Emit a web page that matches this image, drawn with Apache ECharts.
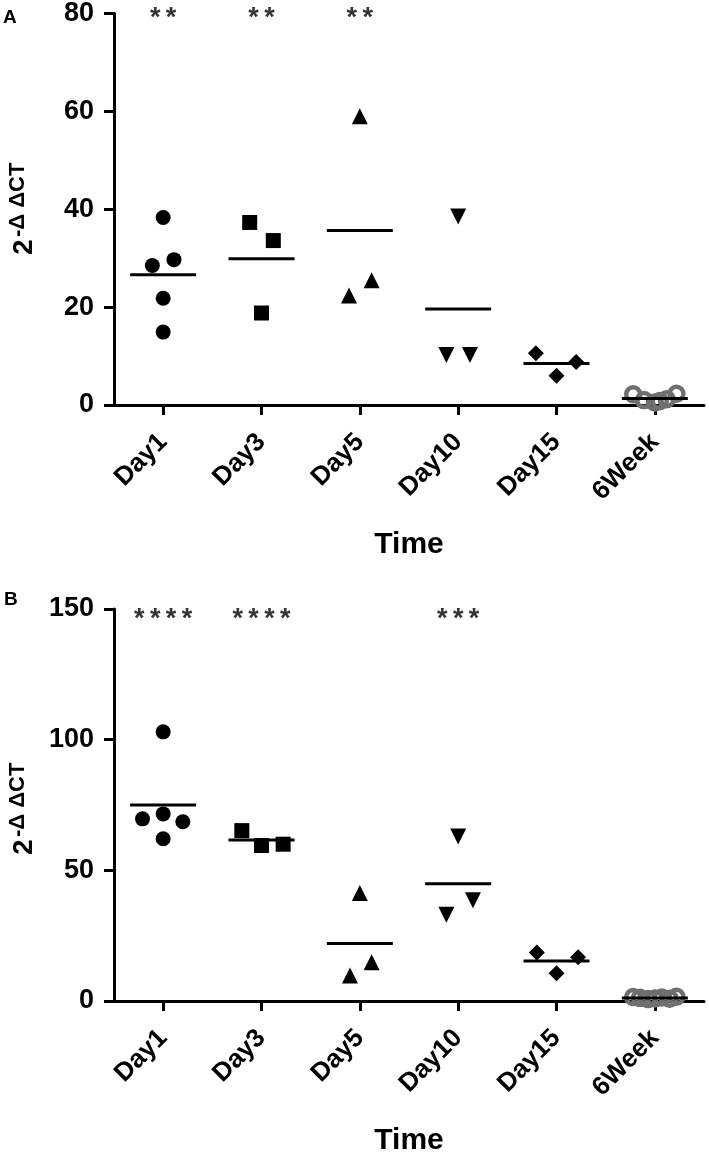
<!DOCTYPE html>
<html>
<head>
<meta charset="utf-8">
<script src="https://cdn.jsdelivr.net/npm/echarts@6/dist/echarts.min.js"></script>
<style>
html,body{margin:0;padding:0;background:#fff;}
#c{width:709px;height:1157px;}
</style>
</head>
<body>
<div id="c"></div>
<script>
// ---- data ----
const categories = ['Day1', 'Day3', 'Day5', 'Day10', 'Day15', '6Week'];

// Panel A
const aDay1  = [38.3, 28.5, 29.7, 21.8, 14.9];
const aDay3  = [37.3, 33.6, 18.8];
const aDay5  = [59.0, 22.4, 25.5];
const aDay10 = [38.5, 10.2, 10.2];
const aDay15 = [10.6, 6.0, 8.8];
const a6Week = [2.2, 1.0, 0.5, 0.8, 1.2, 2.3];
const sigA   = ['**', '**', '**', '', '', ''];

// Panel B
const bDay1  = [103.0, 69.7, 71.6, 68.6, 62.1];
const bDay3  = [65.2, 59.5, 60.0];
const bDay5  = [41.3, 9.8, 14.8];
const bDay10 = [62.9, 33.0, 38.6];
const bDay15 = [18.6, 10.6, 16.7];
const b6Week = [1.5, 1.2, 0.8, 1.0, 1.3, 0.9, 1.6];
const sigB   = ['****', '****', '', '***', '', ''];

// ---- layout only: horizontal scatter of points within a group (in category units) ----
const jitA = [
  [0, -0.11, 0.11, 0, 0],
  [-0.12, 0.12, 0],
  [0, -0.11, 0.12],
  [0, -0.12, 0.12],
  [-0.21, 0, 0.2],
  [-0.22, -0.11, 0, 0.05, 0.12, 0.22]
];
const jitB = [
  [0, -0.21, 0, 0.2, 0],
  [-0.2, 0, 0.22],
  [0, -0.1, 0.12],
  [0, -0.12, 0.15],
  [-0.2, 0, 0.22],
  [-0.22, -0.15, -0.07, 0, 0.07, 0.15, 0.22]
];

const FONT = "Liberation Sans, Arial, sans-serif";
const groupsA = [aDay1, aDay3, aDay5, aDay10, aDay15, a6Week];
const groupsB = [bDay1, bDay3, bDay5, bDay10, bDay15, b6Week];

const symbolDefs = [
  {symbol: 'circle', size: 15, rotate: 0},
  {symbol: 'rect', size: 15, rotate: 0},
  {symbol: 'triangle', size: 16, rotate: 0},
  {symbol: 'triangle', size: 16, rotate: 180},
  {symbol: 'diamond', size: 16, rotate: 0},
  {symbol: 'circle', size: 14, rotate: 0, hollow: true}
];

function mean(arr) { return arr.reduce((s, v) => s + v, 0) / arr.length; }

function panelSeries(groups, jit, sig, xValIdx, yIdx, yMax, starOffset) {
  const out = [];
  groups.forEach((vals, i) => {
    const def = symbolDefs[i];
    out.push({
      type: 'scatter', xAxisIndex: xValIdx, yAxisIndex: yIdx, clip: false,
      symbol: def.symbol, symbolSize: def.size, symbolRotate: def.rotate,
      itemStyle: def.hollow
        ? {color: 'rgba(255,255,255,0)', borderColor: '#6f6f6f', borderWidth: 4.5, opacity: 1}
        : {color: '#000', opacity: 1},
      emphasis: {disabled: true},
      z: 3,
      data: vals.map((v, k) => [i + jit[i][k], v])
    });
  });
  // group means
  out.push({
    type: 'scatter', xAxisIndex: xValIdx, yAxisIndex: yIdx, clip: false,
    symbol: 'rect', symbolSize: [66, 3], itemStyle: {color: '#000', opacity: 1}, z: 4,
    emphasis: {disabled: true},
    data: groups.map((vals, i) => [i, mean(vals)])
  });
  // significance stars
  out.push({
    type: 'scatter', xAxisIndex: xValIdx, yAxisIndex: yIdx, clip: false,
    symbolSize: 0, z: 5,
    label: {
      show: true, position: 'inside', offset: [0, starOffset],
      formatter: p => sig[p.dataIndex].split('').join('\u2009'),
      fontFamily: FONT, fontWeight: 'bold', fontSize: 27, color: '#000'
    },
    data: sig.map((s, i) => [i, yMax])
  });
  return out;
}

function catAxis(gridIndex) {
  return {
    type: 'category', gridIndex, data: categories, boundaryGap: true,
    axisLine: {show: true, lineStyle: {color: '#000', width: 3}},
    axisTick: {show: true, alignWithLabel: true, length: 10, lineStyle: {color: '#000', width: 3}},
    axisLabel: {rotate: 45, margin: 33, fontFamily: FONT, fontWeight: 'bold', fontSize: 26, color: '#000'},
    splitLine: {show: false},
    name: 'Time', nameLocation: 'middle', nameGap: 125,
    nameTextStyle: {fontFamily: FONT, fontWeight: 'bold', fontSize: 30, color: '#000'}
  };
}
function valXAxis(gridIndex) {
  return {type: 'value', gridIndex, min: -0.5, max: 5.5, show: false};
}
function yAxis(gridIndex, max, interval) {
  return {
    type: 'value', gridIndex, min: 0, max, interval,
    axisLine: {show: true, onZero: false, lineStyle: {color: '#000', width: 3}},
    axisTick: {show: true, length: 10, lineStyle: {color: '#000', width: 3}},
    axisLabel: {margin: 20, fontFamily: FONT, fontWeight: 'bold', fontSize: 27, color: '#000'},
    splitLine: {show: false}
  };
}

function txtStyle(text, size, align, vAlign) {
  return {text, fontFamily: FONT, fontWeight: 'bold', fontSize: size, fill: '#000', align, verticalAlign: vAlign};
}

// y-axis title: 2 with superscript -ΔΔCT (rotated to read upward)
function yTitle(bottomY) {
  return [
    {type: 'text', x: 38, y: bottomY, rotation: Math.PI / 2, style: txtStyle('2', 28, 'left', 'bottom')},
    {type: 'text', x: 29, y: bottomY - 18, rotation: Math.PI / 2, style: txtStyle('-\u0394 \u0394CT', 22, 'left', 'bottom')}
  ];
}

const chart = echarts.init(document.getElementById('c'), null, {renderer: 'canvas'});
chart.setOption({
  animation: false,
  backgroundColor: '#fff',
  grid: [
    {left: 114, top: 12, width: 590, height: 393},
    {left: 114, top: 609, width: 590, height: 396}
  ],
  xAxis: [catAxis(0), valXAxis(0), catAxis(1), valXAxis(1)],
  yAxis: [yAxis(0, 80, 20), yAxis(1, 150, 50)],
  graphic: [
    {type: 'text', x: 3, y: 8, style: txtStyle('A', 19, 'left', 'top')},
    {type: 'text', x: 4, y: 590, style: txtStyle('B', 19, 'left', 'top')}
  ].concat(yTitle(255), yTitle(855)),
  series: [].concat(
    panelSeries(groupsA, jitA, sigA, 1, 0, 80, 5),
    panelSeries(groupsB, jitB, sigB, 3, 1, 150, 11)
  )
});
</script>
</body>
</html>
